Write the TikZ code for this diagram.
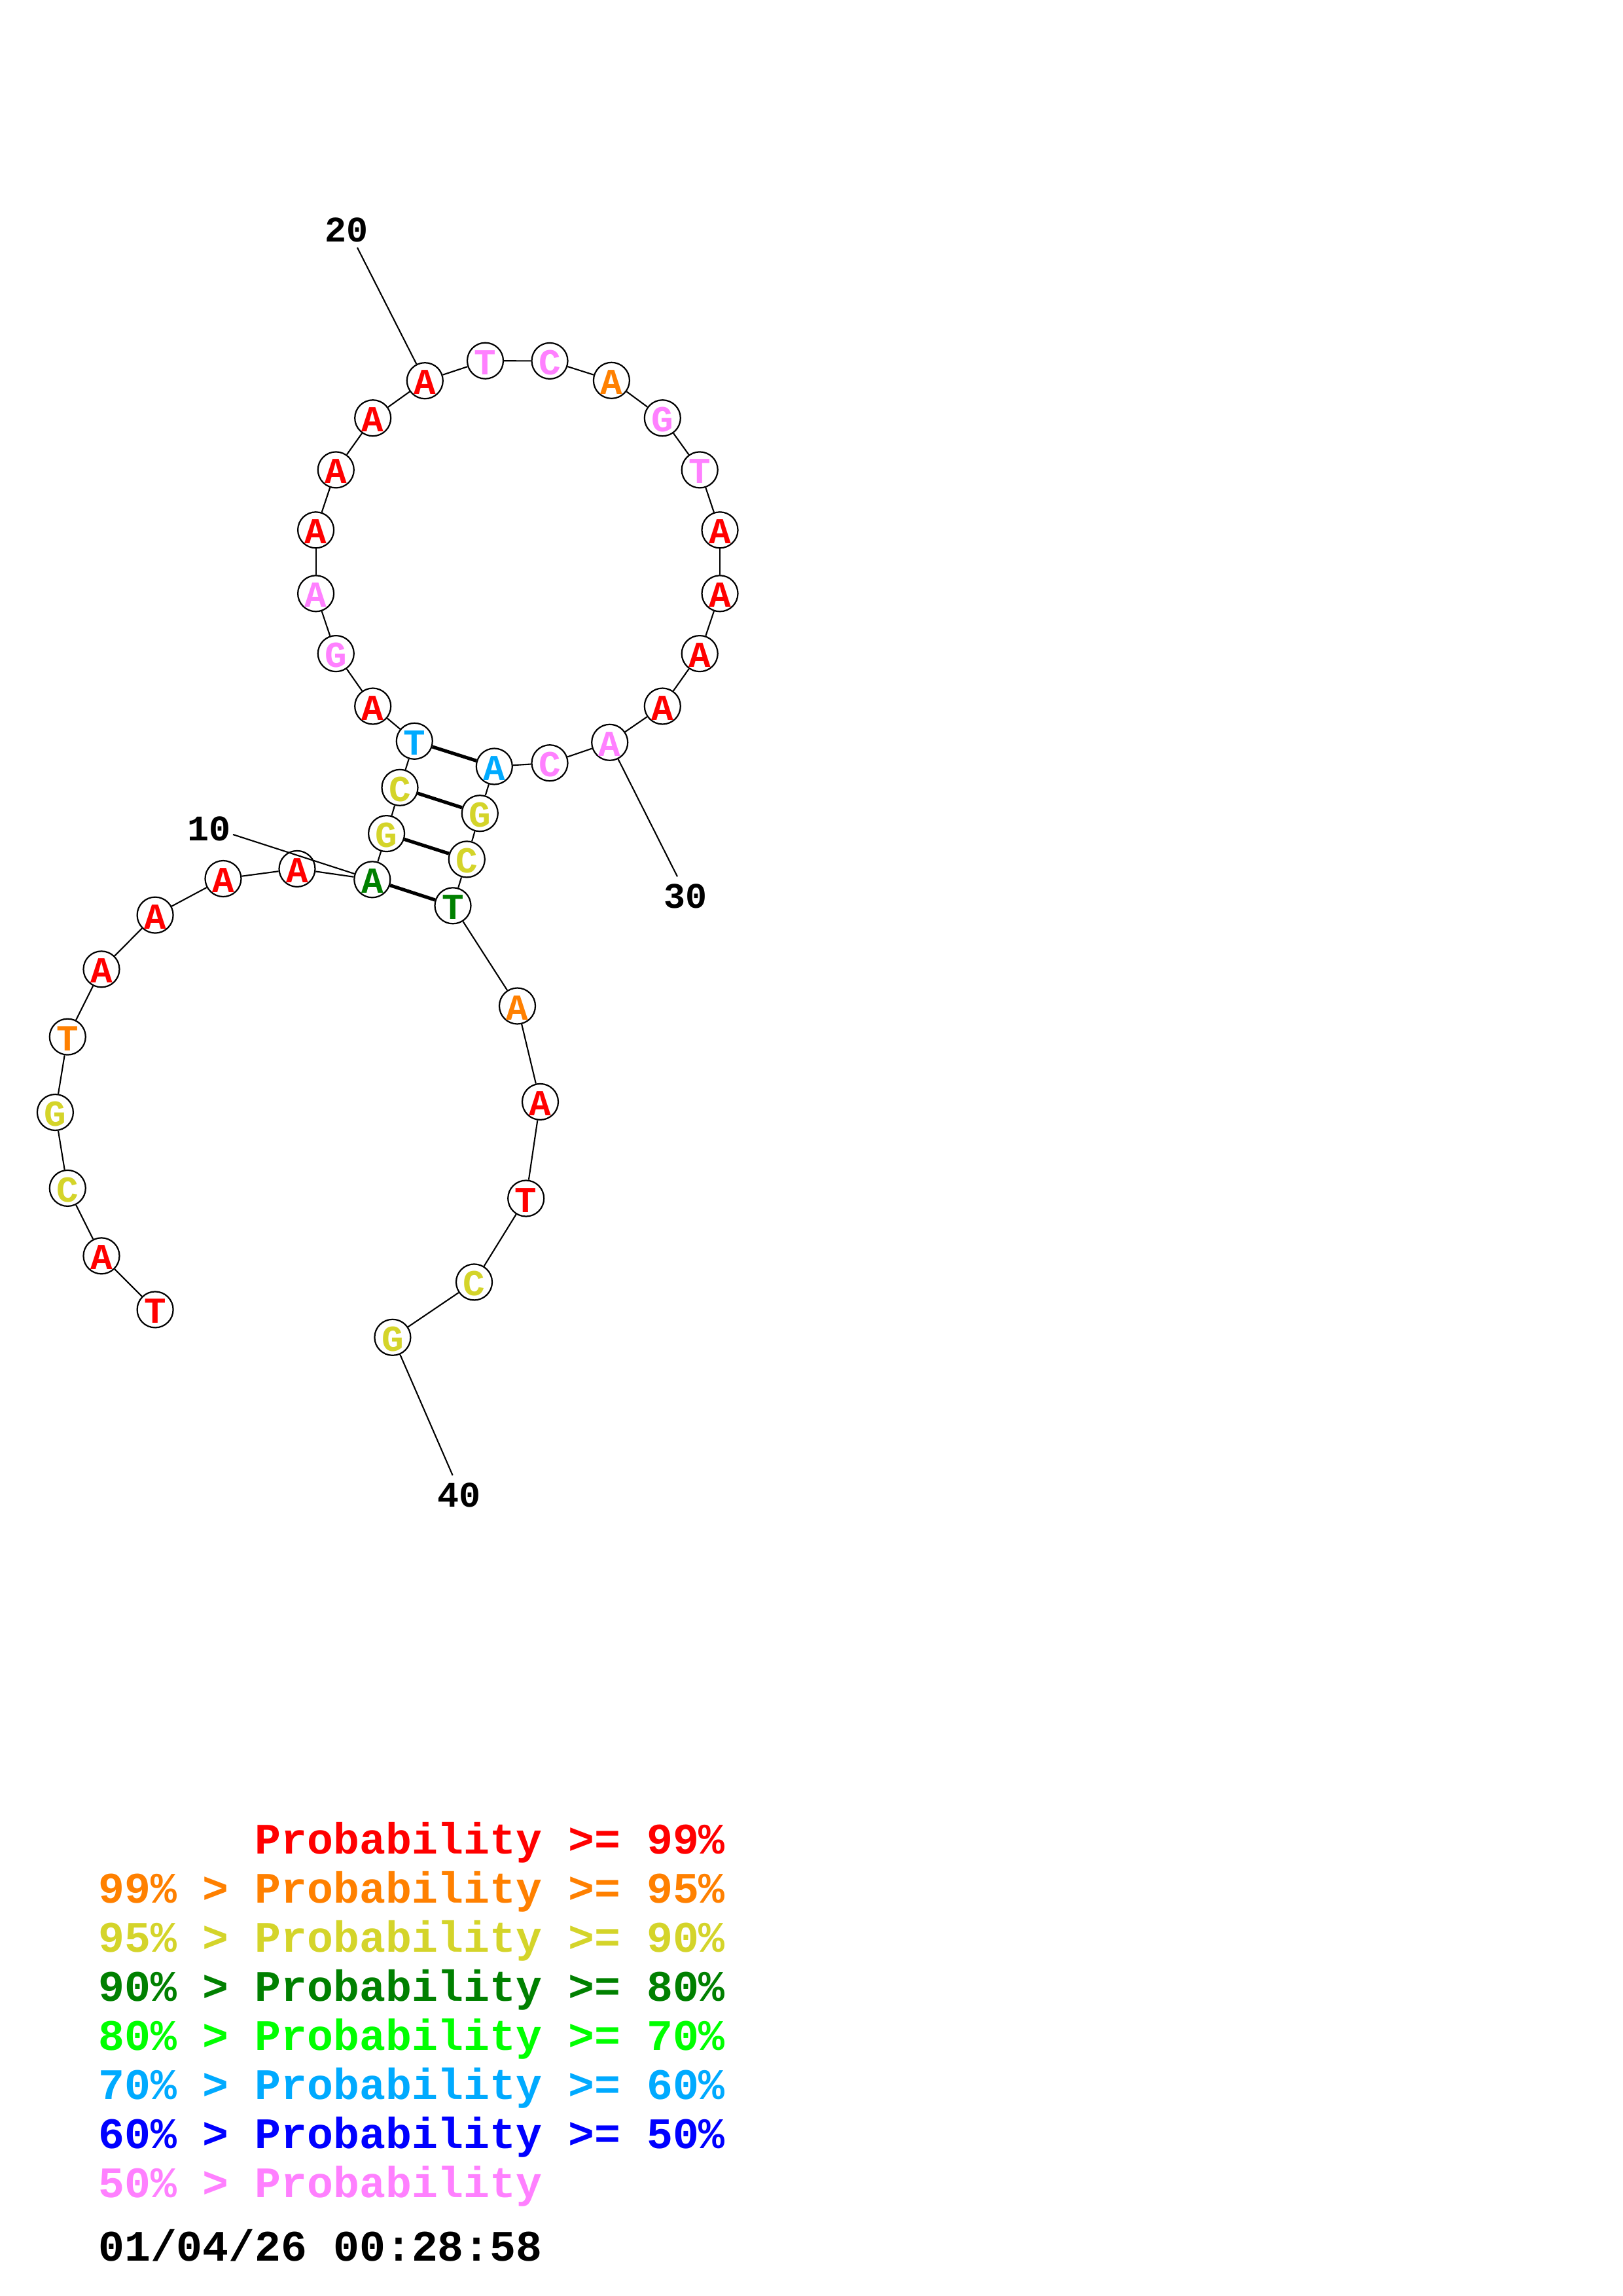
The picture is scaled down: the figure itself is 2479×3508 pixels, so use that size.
\documentclass[tikz,border=0pt]{standalone}
\usepackage{fontspec}
\newfontfamily\cour{Liberation Mono}
\definecolor{pr}{RGB}{255,0,0}
\definecolor{po}{RGB}{255,128,0}
\definecolor{py}{RGB}{212,212,42}
\definecolor{pdg}{RGB}{0,128,0}
\definecolor{plg}{RGB}{0,255,0}
\definecolor{plb}{RGB}{0,170,255}
\definecolor{pb}{RGB}{0,0,255}
\definecolor{pp}{RGB}{255,128,255}
\tikzset{
 nt/.style={circle,draw=black,line width=2.2pt,fill=white,minimum size=55pt,inner sep=0pt,
   text height=42pt,text depth=0pt,font=\cour\bfseries\fontsize{56}{56}\selectfont},
 bb/.style={line width=2.1pt},
 bpair/.style={line width=5.2pt},
 num/.style={font=\cour\bfseries\fontsize{55}{55}\selectfont,inner sep=0pt},
 leg/.style={anchor=base west,inner sep=0pt,font=\cour\bfseries\fontsize{66.5}{66.5}\selectfont}
}
\begin{document}
\begin{tikzpicture}[x=1pt,y=-1pt]
\useasboundingbox[fill=white] (0,0) rectangle (2479,3508);
% nucleotides
\node[nt,text=pr]  (n1)  at (237.1,2000.9) {T};
\node[nt,text=pr]  (n2)  at (155.0,1918.8) {A};
\node[nt,text=py]  (n3)  at (103.3,1815.4) {C};
\node[nt,text=py]  (n4)  at (84.4,1699.5) {G};
\node[nt,text=po]  (n5)  at (103.3,1584.1) {T};
\node[nt,text=pr]  (n6)  at (155.0,1480.8) {A};
\node[nt,text=pr]  (n7)  at (237.1,1398.1) {A};
\node[nt,text=pr]  (n8)  at (341.0,1342.5) {A};
\node[nt,text=pr]  (n9)  at (454.0,1327.4) {A};
\node[nt,text=pdg] (n10) at (568.8,1343.8) {A};
\node[nt,text=py]  (n11) at (590.6,1273.6) {G};
\node[nt,text=py]  (n12) at (611.0,1203.3) {C};
\node[nt,text=plb] (n13) at (633.3,1132.3) {T};
\node[nt,text=pr]  (n14) at (569.7,1079.0) {A};
\node[nt,text=pp]  (n15) at (513.3,998.6) {G};
\node[nt,text=pp]  (n16) at (482.6,906.8) {A};
\node[nt,text=pr]  (n17) at (482.6,809.8) {A};
\node[nt,text=pr]  (n18) at (513.3,717.9) {A};
\node[nt,text=pr]  (n19) at (569.7,638.7) {A};
\node[nt,text=pr]  (n20) at (649.3,581.7) {A};
\node[nt,text=pp]  (n21) at (741.5,551.2) {T};
\node[nt,text=pp]  (n22) at (840.0,551.4) {C};
\node[nt,text=po]  (n23) at (934.4,581.3) {A};
\node[nt,text=pp]  (n24) at (1012.3,638.7) {G};
\node[nt,text=pp]  (n25) at (1069.2,717.9) {T};
\node[nt,text=pr]  (n26) at (1100.0,809.8) {A};
\node[nt,text=pr]  (n27) at (1100.0,906.8) {A};
\node[nt,text=pr]  (n28) at (1069.2,998.6) {A};
\node[nt,text=pr]  (n29) at (1012.3,1079.0) {A};
\node[nt,text=pp]  (n30) at (931.7,1134.3) {A};
\node[nt,text=pp]  (n31) at (840.0,1165.7) {C};
\node[nt,text=plb] (n32) at (755.3,1171.0) {A};
\node[nt,text=py]  (n33) at (733.3,1242.7) {G};
\node[nt,text=py]  (n34) at (713.3,1312.9) {C};
\node[nt,text=pdg] (n35) at (692.0,1383.8) {T};
\node[nt,text=po]  (n36) at (790.5,1537.0) {A};
\node[nt,text=pr]  (n37) at (825.5,1683.4) {A};
\node[nt,text=pr]  (n38) at (803.7,1831.0) {T};
\node[nt,text=py]  (n39) at (724.5,1958.9) {C};
\node[nt,text=py]  (n40) at (599.9,2043.3) {G};
% backbone
\foreach \i in {1,...,39}{\pgfmathtruncatemacro\j{\i+1}\draw[bb] (n\i) -- (n\j);}
% base pairs
\draw[bpair] (n13) -- (n32);
\draw[bpair] (n12) -- (n33);
\draw[bpair] (n11) -- (n34);
\draw[bpair] (n10) -- (n35);
% position labels
\node[num] (l10) at (319.2,1266.3) {10};
\coordinate (c10) at (356,1275);
\draw[bb] (c10) -- (n10);
\node[num] (l20) at (529.7,351.7) {20};
\coordinate (c20) at (546,378.3);
\draw[bb] (c20) -- (n20);
\node[num] (l30) at (1047.8,1369.7) {30};
\coordinate (c30) at (1035,1339.3);
\draw[bb] (n30) -- (c30);
\node[num] (l40) at (701.7,2284.0) {40};
\coordinate (c40) at (691.7,2254.2);
\draw[bb] (n40) -- (c40);
% legend
\node[leg,text=pr]  (r1) at (389.4,2832.7) {Probability >= 99\%};
\node[leg,text=po]  (r2) at (150,2907.7) {99\% > Probability >= 95\%};
\node[leg,text=py]  (r3) at (150,2982.7) {95\% > Probability >= 90\%};
\node[leg,text=pdg] (r4) at (150,3057.7) {90\% > Probability >= 80\%};
\node[leg,text=plg] (r5) at (150,3132.7) {80\% > Probability >= 70\%};
\node[leg,text=plb] (r6) at (150,3207.7) {70\% > Probability >= 60\%};
\node[leg,text=pb]  (r7) at (150,3282.7) {60\% > Probability >= 50\%};
\node[leg,text=pp]  (r8) at (150,3357.7) {50\% > Probability};
\node[leg,text=black] (dt) at (150,3454.0) {01/04/26 00:28:58};
\end{tikzpicture}
\end{document}
